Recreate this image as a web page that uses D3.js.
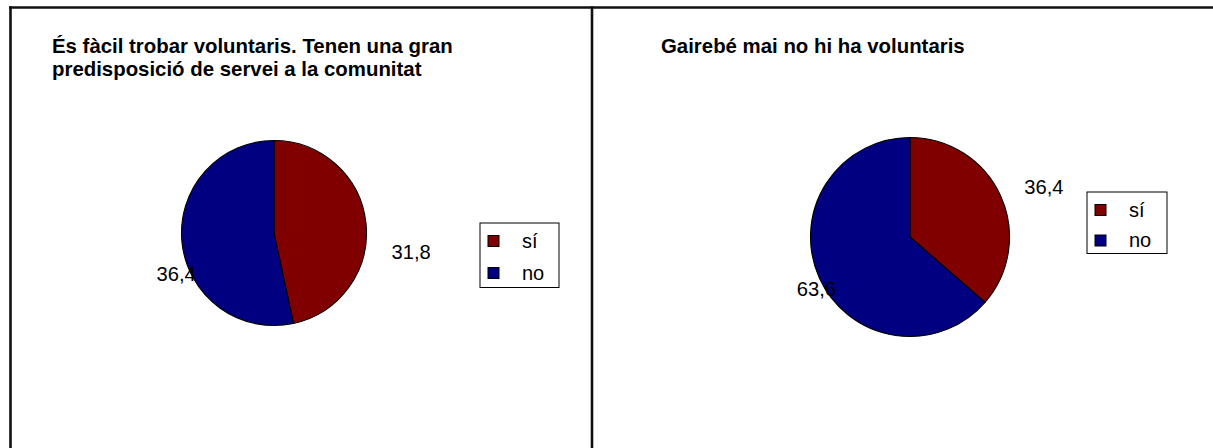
<meta charset="utf-8">
<title>Voluntaris</title>
<style>
body { margin: 0; background: #fff; }
svg { display: block; font-family: "Liberation Sans", Arial, sans-serif; }
</style>
<body>
<script src="https://d3js.org/d3.v7.min.js"></script>
<script>
// dades de les dues preguntes
var categories = ['sí', 'no'];
var valuesLeft = [31.8, 36.4];
var valuesRight = [36.4, 63.6];
var titleLeft = ['És fàcil trobar voluntaris. Tenen una gran', 'predisposició de servei a la comunitat'];
var titleRight = ['Gairebé mai no hi ha voluntaris'];
var colors = ['#800000', '#000080'];

var width = 1213, height = 448;

var svg = d3.select('body').append('svg')
            .attr('width', width)
            .attr('height', height);

var fmt = d3.formatLocale({decimal: ',', thousands: '.', grouping: [3], currency: ['', '']}).format('.1f');
var color = d3.scaleOrdinal().domain(categories).range(colors);

//marc=====================================================================
svg.append('line')
    .attr('x1', 9).attr('x2', width)
    .attr('y1', 7.5).attr('y2', 7.5)
      .style('stroke', '#111').style('stroke-width', 2.6);
svg.append('line')
    .attr('x1', 10.5).attr('x2', 10.5)
    .attr('y1', 6.2).attr('y2', height)
      .style('stroke', '#111').style('stroke-width', 2.6);
svg.append('line')
    .attr('x1', 592).attr('x2', 592)
    .attr('y1', 6.2).attr('y2', height)
      .style('stroke', '#111').style('stroke-width', 2.6);

//panells==================================================================
var panels = [
  {title: titleLeft, values: valuesLeft, tx: 52, cx: 274, cy: 233, r: 92.5,
   lx: 480, ly: 223, lw: 79, lh: 64.5, lstep: 32,
   labelK: [1.278, 0.851], labelDy: [38.5, 39.4]},
  {title: titleRight, values: valuesRight, tx: 661, cx: 910, cy: 237, r: 99.5,
   lx: 1087, ly: 192, lw: 80, lh: 61.5, lstep: 30.5,
   labelK: [1.262, 0.817], labelDy: [9, 25.3]}
];

var pie = d3.pie().sort(null).value(function(d) { return d.value; });

panels.forEach(function(p) {
  var g = svg.append('g');

  // títol
  g.selectAll('text.title')
    .data(p.title)
    .enter().append('text')
      .attr('class', 'title')
      .attr('x', p.tx)
      .attr('y', function(d, i) { return 53 + i * 22.5; })
      .style('font-size', '20.4px')
      .style('font-weight', 'bold')
      .style('fill', '#000')
      .text(function(d) { return d; });

  var data = categories.map(function(c, i) { return {cat: c, value: p.values[i]}; });
  var arcs = pie(data);
  var arc = d3.arc().innerRadius(0).outerRadius(p.r);

  var pg = g.append('g').attr('transform', 'translate(' + p.cx + ',' + p.cy + ')');
  pg.selectAll('path')
    .data(arcs)
    .enter().append('path')
      .attr('d', arc)
      .style('fill', function(d) { return color(d.data.cat); })
      .style('stroke', '#000')
      .style('stroke-width', 1.1);

  // etiquetes de valor
  pg.selectAll('text.val')
    .data(arcs)
    .enter().append('text')
      .attr('class', 'val')
      .attr('transform', function(d, i) {
        var R = p.r * p.labelK[i];
        var c = d3.arc().innerRadius(R).outerRadius(R).centroid(d);
        return 'translate(' + c[0] + ',' + (c[1] + p.labelDy[i]) + ')';
      })
      .style('text-anchor', function(d, i) { return i == 0 ? 'start' : 'end'; })
      .style('font-size', '20.2px')
      .style('fill', '#000')
      .text(function(d) { return fmt(d.data.value); });

  // llegenda
  var lg = g.append('g').attr('transform', 'translate(' + p.lx + ',' + p.ly + ')');
  lg.append('rect')
    .attr('width', p.lw).attr('height', p.lh)
      .style('fill', '#fff').style('stroke', '#000').style('stroke-width', 1);
  var item = lg.selectAll('g.item')
    .data(categories)
    .enter().append('g')
      .attr('class', 'item')
      .attr('transform', function(d, i) { return 'translate(0,' + (18 + i * p.lstep) + ')'; });
  item.append('rect')
    .attr('x', 8).attr('y', -5.5)
    .attr('width', 11).attr('height', 11)
      .style('fill', function(d) { return color(d); })
      .style('stroke', '#000').style('stroke-width', 1);
  item.append('text')
    .attr('x', 42).attr('y', 6.5)
      .style('font-size', '20px')
      .style('fill', '#000')
      .text(function(d) { return d; });
});
</script>
